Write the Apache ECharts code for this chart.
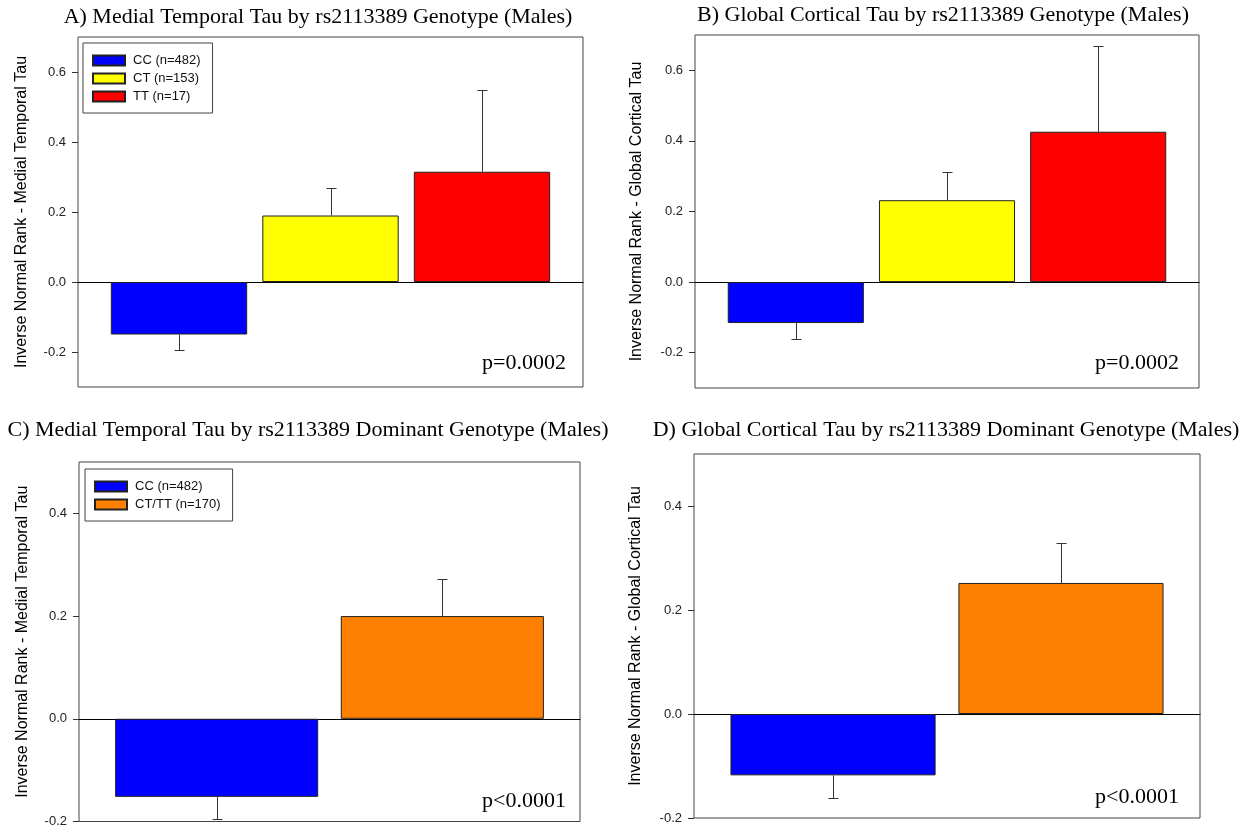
<!DOCTYPE html>
<html><head><meta charset="utf-8">
<script src="https://cdn.jsdelivr.net/npm/echarts@6/dist/echarts.min.js"></script>
<style>html,body{margin:0;padding:0;background:#fff}#c{width:1250px;height:828px}</style>
</head><body><div id="c"></div>
<script>
// ---- data ----
const panelTitles = [
  'A) Medial Temporal Tau by rs2113389 Genotype (Males)',
  'B) Global Cortical Tau by rs2113389 Genotype (Males)',
  'C) Medial Temporal Tau by rs2113389 Dominant Genotype (Males)',
  'D) Global Cortical Tau by rs2113389 Dominant Genotype (Males)'
];
const yTitles = [
  'Inverse Normal Rank - Medial Temporal Tau',
  'Inverse Normal Rank - Global Cortical Tau',
  'Inverse Normal Rank - Medial Temporal Tau',
  'Inverse Normal Rank - Global Cortical Tau'
];
const pValues = ['p=0.0002', 'p=0.0002', 'p<0.0001', 'p<0.0001'];
const genotypeNames = ['CC (n=482)', 'CT (n=153)', 'TT (n=17)'];
const dominantNames = ['CC (n=482)', 'CT/TT (n=170)'];
const medialGenotypeMeans = [-0.150, 0.190, 0.315];
const medialGenotypeErr   = [0.044, 0.078, 0.234];
const globalGenotypeMeans = [-0.116, 0.232, 0.426];
const globalGenotypeErr   = [0.046, 0.080, 0.243];
const medialDominantMeans = [-0.152, 0.200];
const medialDominantErr   = [0.043, 0.073];
const globalDominantMeans = [-0.118, 0.252];
const globalDominantErr   = [0.044, 0.076];
const ticksGenotype = [-0.2, 0.0, 0.2, 0.4, 0.6];
const ticksDominant = [-0.2, 0.0, 0.2, 0.4];

// ---- styles / layout ----
const genotypeColors = ['#0000ff', '#ffff00', '#ff0000'];
const dominantColors = ['#0000ff', '#ff8000'];
const panels = [
  {grid:{left:78, top:37, width:505, height:350}, y:[-0.3,0.7], x:[1/3, 11/3], names:genotypeNames, means:medialGenotypeMeans, errs:medialGenotypeErr, colors:genotypeColors, ticks:ticksGenotype, legend:{left:83, top:43}, title:[318,6], p:[566,363], nameGap:48},
  {grid:{left:695, top:35, width:504, height:353}, y:[-0.3,0.7], x:[1/3, 11/3], names:genotypeNames, means:globalGenotypeMeans, errs:globalGenotypeErr, colors:genotypeColors, ticks:ticksGenotype, legend:null, title:[943,4], p:[1179,363], nameGap:50},
  {grid:{left:79, top:462, width:501, height:360}, y:[-0.2,0.5], x:[0.39, 2.61], names:dominantNames, means:medialDominantMeans, errs:medialDominantErr, colors:dominantColors, ticks:ticksDominant, legend:{left:85, top:469}, title:[308,419], p:[566,801], nameGap:48},
  {grid:{left:694, top:454, width:506, height:364}, y:[-0.2,0.5], x:[0.39, 2.61], names:dominantNames, means:globalDominantMeans, errs:globalDominantErr, colors:dominantColors, ticks:ticksDominant, legend:null, title:[946,419], p:[1179,797], nameGap:50}
];

const option = {
  backgroundColor:'#fff', animation:false,
  title:[], grid:[], xAxis:[], yAxis:[], series:[], legend:[], graphic:[]
};

panels.forEach((P, pi) => {
  option.grid.push(Object.assign({show:true, borderColor:'#444', borderWidth:1, backgroundColor:'#fff'}, P.grid));
  option.title.push({text:panelTitles[pi], left:P.title[0], top:P.title[1], textAlign:'center', padding:0,
    textStyle:{fontFamily:'"Liberation Serif", serif', fontSize:22, fontWeight:'normal', color:'#000'}});
  option.xAxis.push({type:'value', gridIndex:pi, min:P.x[0], max:P.x[1],
    axisLine:{show:true, onZero:true, lineStyle:{color:'#000', width:1}},
    axisTick:{show:false}, axisLabel:{show:false}, splitLine:{show:false}});
  option.yAxis.push({type:'value', gridIndex:pi, min:P.y[0], max:P.y[1],
    axisLine:{show:false},
    axisTick:{show:true, length:6, inside:false, customValues:P.ticks, lineStyle:{color:'#333'}},
    axisLabel:{customValues:P.ticks, margin:12, formatter:v => v.toFixed(1),
      fontFamily:'"Liberation Sans", Arial, sans-serif', fontSize:13, color:'#222'},
    splitLine:{show:false},
    name:yTitles[pi], nameLocation:'middle', nameRotate:90, nameGap:P.nameGap,
    nameTextStyle:{fontFamily:'"Liberation Sans", Arial, sans-serif', fontSize:16, color:'#000'}});
  const unit = P.grid.width / (P.x[1] - P.x[0]);
  const bw = 0.9 * unit;
  P.names.forEach((nm, i) => {
    option.series.push({name:nm, type:'bar', xAxisIndex:pi, yAxisIndex:pi,
      data:[[i + 1, P.means[i]]], barWidth:bw, barGap:'-100%',
      itemStyle:{color:P.colors[i], borderColor:'#222', borderWidth:1}, z:2});
  });
  option.series.push({type:'custom', xAxisIndex:pi, yAxisIndex:pi, z:3,
    data:P.means.map((m, i) => [i + 1, m, P.errs[i]]),
    renderItem:(params, api) => {
      const x = api.value(0), m = api.value(1), e = api.value(2);
      const end = m >= 0 ? m + e : m - e;
      const p0 = api.coord([x, m]), p1 = api.coord([x, end]);
      const cx = Math.round(p0[0]) + 0.5, y1 = Math.round(p1[1]) + 0.5;
      const st = {stroke:'#333', lineWidth:1};
      return {type:'group', children:[
        {type:'line', shape:{x1:cx, y1:p0[1], x2:cx, y2:y1}, style:st},
        {type:'line', shape:{x1:cx - 5, y1:y1, x2:cx + 5, y2:y1}, style:st}
      ]};
    }});
  if (P.legend) {
    option.legend.push({data:P.names, left:P.legend.left, top:P.legend.top, orient:'vertical',
      itemWidth:32, itemHeight:10, itemGap:5, icon:'rect', selectedMode:false,
      borderColor:'#444', borderWidth:1, padding:[11,12,10,9], backgroundColor:'#fff',
      textStyle:{fontFamily:'"Liberation Sans", Arial, sans-serif', fontSize:13, color:'#111', padding:[0,0,0,3]}});
  }
  option.graphic.push({type:'text', x:P.p[0], y:P.p[1], z:10,
    style:{text:pValues[pi], font:'22px "Liberation Serif", serif', fill:'#000', align:'right', verticalAlign:'middle'}});
});

const chart = echarts.init(document.getElementById('c'), null, {renderer:'canvas'});
chart.setOption(option);
</script></body></html>
